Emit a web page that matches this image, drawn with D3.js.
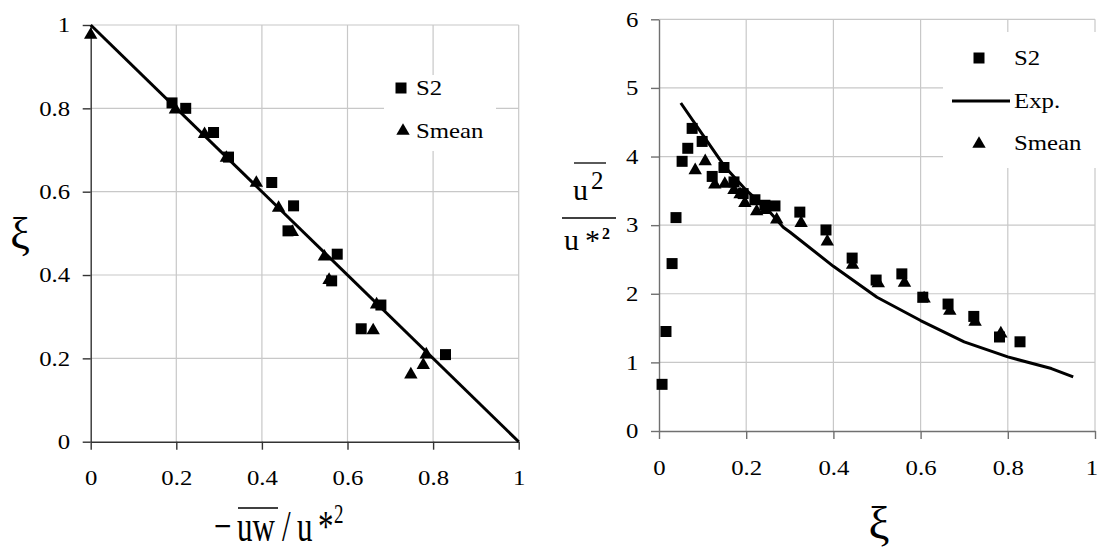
<!DOCTYPE html>
<html>
<head>
<meta charset="utf-8">
<script src="https://cdn.jsdelivr.net/npm/d3@7"></script>
<style>
  body { margin: 0; background: #fff; }
  svg text { font-family: 'Liberation Serif', 'Times New Roman', Times, serif; fill: #000; }
</style>
</head>
<body>
<svg id="chart" width="1100" height="550"></svg>
<script>
// ---- Left panel: xi versus normalised Reynolds stress ----
const leftS2X    = [0.190, 0.222, 0.287, 0.322, 0.423, 0.474, 0.461, 0.576, 0.563, 0.678, 0.632, 0.829];
const leftS2Y    = [0.813, 0.800, 0.742, 0.683, 0.622, 0.566, 0.506, 0.450, 0.386, 0.328, 0.271, 0.209];
const leftMeanX  = [0.000, 0.198, 0.266, 0.317, 0.387, 0.439, 0.471, 0.546, 0.557, 0.668, 0.660, 0.748, 0.777, 0.784];
const leftMeanY  = [0.976, 0.797, 0.738, 0.681, 0.621, 0.561, 0.503, 0.444, 0.388, 0.329, 0.267, 0.161, 0.184, 0.209];
const leftLineX  = [0, 1];
const leftLineY  = [1, 0];
const leftTicks  = [0, 0.2, 0.4, 0.6, 0.8, 1];

// ---- Right panel: streamwise turbulence intensity versus xi ----
const rightS2X   = [0.007, 0.016, 0.030, 0.039, 0.053, 0.066, 0.076, 0.099, 0.122, 0.149, 0.172, 0.193, 0.220,
                    0.243, 0.266, 0.323, 0.383, 0.443, 0.498, 0.557, 0.605, 0.663, 0.722, 0.781, 0.828];
const rightS2Y   = [0.68, 1.45, 2.44, 3.11, 3.93, 4.12, 4.41, 4.22, 3.71, 3.84, 3.63, 3.46, 3.37,
                    3.29, 3.28, 3.19, 2.93, 2.52, 2.20, 2.29, 1.95, 1.85, 1.67, 1.37, 1.30];
const rightMeanX = [0.083, 0.106, 0.128, 0.151, 0.172, 0.186, 0.197, 0.224, 0.245, 0.270, 0.326, 0.386, 0.444,
                    0.503, 0.563, 0.608, 0.667, 0.725, 0.784];
const rightMeanY = [3.80, 3.93, 3.59, 3.60, 3.51, 3.45, 3.32, 3.20, 3.22, 3.08, 3.03, 2.76, 2.42,
                    2.15, 2.16, 1.93, 1.75, 1.59, 1.42];
const expX       = [0.05, 0.10, 0.15, 0.20, 0.25, 0.285, 0.30, 0.40, 0.50, 0.60, 0.70, 0.80, 0.90, 0.95];
const expY       = [4.78, 4.32, 3.86, 3.51, 3.22, 2.97, 2.90, 2.40, 1.95, 1.61, 1.30, 1.08, 0.91, 0.79];
const rightXTicks = [0, 0.2, 0.4, 0.6, 0.8, 1];
const rightYTicks = [0, 1, 2, 3, 4, 5, 6];

const legendLabels = { s2: "S2", exp: "Exp.", mean: "Smean" };

const SERIF = "'Liberation Serif', 'Times New Roman', Times, serif";
const svg = d3.select("#chart").style("font-family", SERIF);
const STRETCH = 1.18;           // labels are set slightly wide
const FS = 21;                  // label font size
const GRID = "#c8c8c8";
const fmt = d3.format("~g");

const zip = (xs, ys) => xs.map((v, i) => [v, ys[i]]);
const sq = d3.symbol().type(d3.symbolSquare).size(121);
const tri = d3.symbol().type(d3.symbolTriangle).size(78);

function drawPanel(o) {
  const g = svg.append("g");
  const [x0, x1] = o.x.range();
  const [y0, y1] = o.y.range();

  // gridlines
  g.selectAll(".gx").data(o.xGrid).join("line")
    .attr("x1", d => o.x(d)).attr("x2", d => o.x(d))
    .attr("y1", y0).attr("y2", y1)
    .attr("stroke", GRID).attr("stroke-width", 1.2);
  g.selectAll(".gy").data(o.yGrid).join("line")
    .attr("x1", x0).attr("x2", x1)
    .attr("y1", d => o.y(d)).attr("y2", d => o.y(d))
    .attr("stroke", GRID).attr("stroke-width", 1.2);

  // axes
  const ax = g.append("g").attr("transform", `translate(0,${y0})`)
    .call(d3.axisBottom(o.x).tickValues(o.xTicks).tickSize(8).tickSizeOuter(0)
      .tickPadding(o.bottomPad).tickFormat(fmt));
  const ay = g.append("g").attr("transform", `translate(${x0},0)`)
    .call(d3.axisLeft(o.y).tickValues(o.yTicks).tickSize(8).tickSizeOuter(0)
      .tickPadding(o.leftPad).tickFormat(fmt));
  [ax, ay].forEach(a => {
    a.attr("font-family", null).attr("font-size", null);
    a.select(".domain").attr("stroke", o.axisColor).attr("stroke-width", 1.4);
    a.selectAll(".tick line").attr("stroke", o.axisColor).attr("stroke-width", 1.4);
    a.selectAll(".tick text")
      .attr("fill", "#000")
      .style("font-family", SERIF)
      .style("font-size", FS + "px")
      .attr("transform", `scale(${STRETCH},1)`);
  });
  return { g, ax, ay };
}

function legendText(g, x, y, label) {
  g.append("text")
    .attr("transform", `translate(${x},${y}) scale(${STRETCH},1)`)
    .style("font-size", FS + "px")
    .text(label);
}

// ================= Left panel =================
const lx = d3.scaleLinear([0, 1], [90.7, 518.7]);
const ly = d3.scaleLinear([0, 1], [441.7, 25]);
const left = drawPanel({
  x: lx, y: ly,
  xGrid: [0.2, 0.4, 0.6, 0.8, 1], yGrid: [0.2, 0.4, 0.6, 0.8, 1],
  xTicks: leftTicks, yTicks: leftTicks,
  leftPad: 9.4, bottomPad: 20, axisColor: "#333"
}).g;

// legend backing covers the grid
const leftLeg = left.append("g");
leftLeg.append("rect").attr("x", 384).attr("y", 75).attr("width", 112).attr("height", 76).attr("fill", "#fff");

left.append("path")
  .datum(zip(leftLineX, leftLineY))
  .attr("fill", "none").attr("stroke", "#000").attr("stroke-width", 3)
  .attr("d", d3.line().x(d => lx(d[0])).y(d => ly(d[1])));

left.append("g").selectAll("path").data(zip(leftS2X, leftS2Y)).join("path")
  .attr("d", sq).attr("fill", "#000")
  .attr("transform", d => `translate(${lx(d[0])},${ly(d[1])})`);
left.append("g").selectAll("path").data(zip(leftMeanX, leftMeanY)).join("path")
  .attr("d", tri).attr("fill", "#000")
  .attr("transform", d => `translate(${lx(d[0])},${ly(d[1])})`);

leftLeg.raise();
leftLeg.append("path").attr("d", sq).attr("fill", "#000").attr("transform", "translate(401,88)");
legendText(leftLeg, 416, 95, legendLabels.s2);
leftLeg.append("path").attr("d", tri).attr("fill", "#000").attr("transform", "translate(403,131)");
legendText(leftLeg, 416, 138, legendLabels.mean);

// axis titles
svg.append("text").attr("x", 20).attr("y", 248).attr("text-anchor", "middle")
  .style("font-size", "44px").text("ξ");

const bt = svg.append("g").attr("transform", "translate(0,540.7) scale(1,1.45)");
const btText = bt.append("text").style("font-size", "31px");
btText.append("tspan").attr("x", 214).text("−");
btText.append("tspan").attr("x", 237).text("uw");
btText.append("tspan").attr("x", 282).text("/");
btText.append("tspan").attr("x", 297).text("u");
btText.append("tspan").attr("x", 318).text("*");
btText.append("tspan").attr("x", 334).attr("y", -12.2).style("font-size", "19px").text("2");
bt.append("line").attr("x1", 238).attr("x2", 278).attr("y1", -22.6).attr("y2", -22.6)
  .attr("stroke", "#000").attr("stroke-width", 1.1);

// ================= Right panel =================
const rx = d3.scaleLinear([0, 1], [659, 1095]);
const ry = d3.scaleLinear([0, 6], [431, 19.3]);
const rightPanel = drawPanel({
  x: rx, y: ry,
  xGrid: [0.2, 0.4, 0.6, 0.8, 1], yGrid: [1, 2, 3, 4, 5, 6],
  xTicks: rightXTicks, yTicks: rightYTicks,
  leftPad: 9.4, bottomPad: 21, axisColor: "#707070"
});
const right = rightPanel.g;
// last x label sits against the page edge; pull it in slightly
rightPanel.ax.selectAll(".tick text").filter(d => d === 1).attr("x", -3);

const rightLeg = right.append("g");
rightLeg.append("rect").attr("x", 943).attr("y", 32).attr("width", 157).attr("height", 136).attr("fill", "#fff");

right.append("path")
  .datum(zip(expX, expY))
  .attr("fill", "none").attr("stroke", "#000").attr("stroke-width", 3).attr("stroke-linejoin", "round")
  .attr("d", d3.line().x(d => rx(d[0])).y(d => ry(d[1])));

right.append("g").selectAll("path").data(zip(rightS2X, rightS2Y)).join("path")
  .attr("d", sq).attr("fill", "#000")
  .attr("transform", d => `translate(${rx(d[0])},${ry(d[1])})`);
right.append("g").selectAll("path").data(zip(rightMeanX, rightMeanY)).join("path")
  .attr("d", tri).attr("fill", "#000")
  .attr("transform", d => `translate(${rx(d[0])},${ry(d[1])})`);

rightLeg.raise();
rightLeg.append("path").attr("d", sq).attr("fill", "#000").attr("transform", "translate(979,58)");
legendText(rightLeg, 1014, 65, legendLabels.s2);
rightLeg.append("line").attr("x1", 952).attr("x2", 1010).attr("y1", 101).attr("y2", 101)
  .attr("stroke", "#000").attr("stroke-width", 3);
legendText(rightLeg, 1014, 108, legendLabels.exp);
rightLeg.append("path").attr("d", tri).attr("fill", "#000").attr("transform", "translate(979,144)");
legendText(rightLeg, 1014, 150, legendLabels.mean);

// axis titles
svg.append("text").attr("x", 879).attr("y", 539).attr("text-anchor", "middle")
  .style("font-size", "47px").text("ξ");

const yt = svg.append("g");
const num = yt.append("text").style("font-size", "30px");
num.append("tspan").attr("x", 573).attr("y", 200).text("u");
num.append("tspan").attr("x", 591).attr("y", 189).style("font-size", "25px").text("2");
yt.append("line").attr("x1", 574).attr("x2", 606).attr("y1", 163).attr("y2", 163)
  .attr("stroke", "#000").attr("stroke-width", 1.3);
yt.append("line").attr("x1", 562).attr("x2", 616).attr("y1", 218).attr("y2", 218)
  .attr("stroke", "#000").attr("stroke-width", 1.5);
const den = yt.append("text").style("font-size", "30px");
den.append("tspan").attr("x", 564).attr("y", 250).text("u");
den.append("tspan").attr("x", 585).attr("y", 250).text("*");
den.append("tspan").attr("x", 602).attr("y", 238.5).style("font-size", "16px").style("font-weight", "bold").text("2");
</script>
</body>
</html>
